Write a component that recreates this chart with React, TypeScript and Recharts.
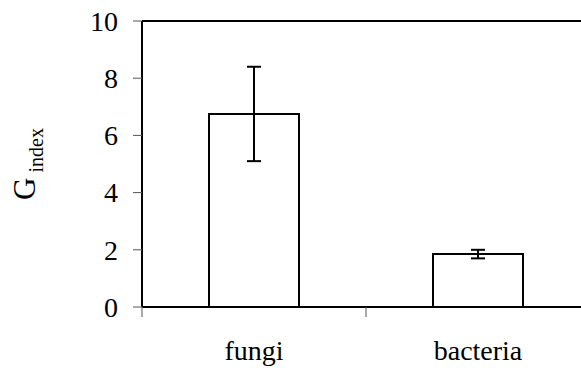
import React from "react";
import { BarChart, Bar, XAxis, YAxis, ErrorBar, ReferenceLine } from "recharts";

const categories = ["fungi", "bacteria"];
const gIndexMeans = [6.75, 1.85];
const gIndexErrors = [1.65, 0.15];
const yTicks = [0, 2, 4, 6, 8, 10];
// category boundaries as fractions of the category axis span
const boundaryTicks = [0, 0.5, 1];

const data = categories.map((name, i) => ({
  name,
  value: gIndexMeans[i],
  err: gIndexErrors[i],
}));

const FONT = "'Liberation Serif', 'Times New Roman', Times, serif";

const YLabel = (props: any) => {
  const vb = props.viewBox || {};
  const cx = (vb.x ?? 0) + 35;
  const cy = (vb.y ?? 0) + (vb.height ?? 0) / 2;
  return (
    <text
      x={cx}
      y={cy}
      transform={`rotate(-90, ${cx}, ${cy})`}
      textAnchor="middle"
      fontFamily={FONT}
      fill="#000"
    >
      <tspan fontSize={31}>G</tspan>
      <tspan fontSize={20} dy={8}>
        {" index"}
      </tspan>
    </text>
  );
};

const YTick = (props: any) => {
  const { x, y, payload } = props;
  return (
    <text
      x={x}
      y={y}
      dy="0.35em"
      textAnchor="end"
      fontFamily={FONT}
      fontSize={28}
      fill="#000"
    >
      {payload.value}
    </text>
  );
};

const XTick = (props: any) => {
  const { x, y, payload } = props;
  return (
    <text
      x={x}
      y={y}
      dy="0.71em"
      textAnchor="middle"
      fontFamily={FONT}
      fontSize={28}
      fill="#000"
    >
      {payload.value}
    </text>
  );
};

const EmptyTick = () => <g />;

export default function App() {
  return (
    <div
      style={{
        position: "absolute",
        left: 0,
        top: 0,
        width: 581,
        height: 368,
        overflow: "hidden",
        background: "#fff",
      }}
    >
      <BarChart
        width={590}
        height={368}
        data={data}
        margin={{ top: 21, right: 0, bottom: 0, left: 0 }}
      >
        <XAxis
          xAxisId={0}
          type="number"
          domain={[0, 1]}
          ticks={boundaryTicks}
          tick={<EmptyTick />}
          tickSize={10}
          tickLine={{ stroke: "#555", strokeWidth: 1 }}
          axisLine={{ stroke: "#000", strokeWidth: 2 }}
          height={1}
          interval={0}
          allowDataOverflow
        />
        <XAxis
          xAxisId={1}
          dataKey="name"
          type="category"
          height={60}
          tickSize={0}
          tickMargin={32}
          tickLine={false}
          axisLine={false}
          tick={<XTick />}
          interval={0}
        />
        <YAxis
          width={142}
          domain={[0, 10]}
          ticks={yTicks}
          tickSize={9}
          tickMargin={15}
          tickLine={{ stroke: "#555", strokeWidth: 1 }}
          axisLine={{ stroke: "#000", strokeWidth: 2 }}
          tick={<YTick />}
          label={<YLabel />}
        />
        <ReferenceLine y={10} xAxisId={1} stroke="#000" strokeWidth={2} />
        <Bar
          xAxisId={1}
          dataKey="value"
          fill="#fff"
          stroke="#000"
          strokeWidth={2}
          barSize={90}
          isAnimationActive={false}
        >
          <ErrorBar
            dataKey="err"
            width={7}
            stroke="#000"
            strokeWidth={2}
            isAnimationActive={false}
          />
        </Bar>
      </BarChart>
    </div>
  );
}
